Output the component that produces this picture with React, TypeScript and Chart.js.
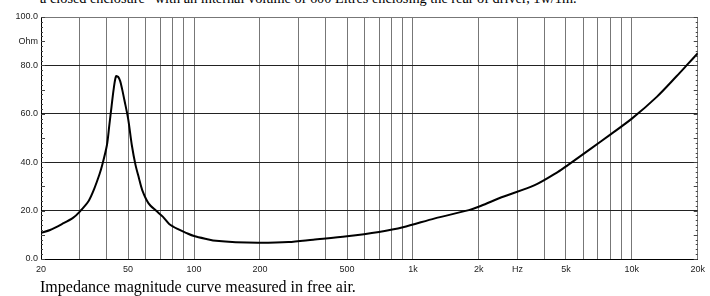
import React, { useEffect, useRef } from "react";
import { Chart, registerables } from "chart.js";
Chart.register(...registerables);

const freqHz = [20, 22, 25, 28, 30, 33, 35, 37, 38, 40, 41, 42, 43, 44, 45, 46, 47, 48, 50, 52, 54, 56, 58, 62, 67, 72, 77, 85, 92, 100, 115, 126, 155, 200, 270, 350, 500, 700, 900, 1260, 1800, 2050, 2540, 3600, 4600, 5100, 6500, 8000, 10000, 13000, 16000, 18000, 20000];
const impedanceOhm = [10.8, 12, 14.5, 17, 19.5, 24, 29, 35, 38.5, 47, 55, 63, 70.5, 75.5, 75.3, 73.5, 70, 66, 58, 47, 39, 33.5, 28.5, 23, 20, 17.5, 14.5, 12.2, 10.8, 9.5, 8.2, 7.5, 6.9, 6.7, 7.0, 8.0, 9.4, 11.2, 13.1, 16.8, 20.2, 22, 25.5, 30.5, 36, 38.8, 45.6, 51.5, 58, 67, 75.5, 80.5, 85];

const xGridValues = [20, 30, 40, 50, 60, 70, 80, 90, 100, 200, 300, 400, 500, 600, 700, 800, 900, 1000, 2000, 3000, 4000, 5000, 6000, 7000, 8000, 9000, 10000, 20000];
const xLabels: Record<number, string> = { 20: "20", 50: "50", 100: "100", 200: "200", 500: "500", 1000: "1k", 2000: "2k", 3000: "Hz", 5000: "5k", 10000: "10k", 20000: "20k" };
const yTickValues = [0, 20, 40, 60, 80, 90, 100];
const yUnitLabel = "Ohm";
const topText = "a closed enclosure\u201D with an internal volume of 600 Litres enclosing the rear of driver, 1w/1m.";
const caption = "Impedance magnitude curve measured in free air.";

const minorTicks = {
  id: "minorTicks",
  afterDraw(chart: any) {
    const y = chart.scales.y;
    const ctx = chart.ctx;
    const { left, right } = chart.chartArea;
    ctx.save();
    ctx.strokeStyle = "#444";
    ctx.lineWidth = 1;
    for (let v = 0; v <= 100; v += 2) {
      const py = Math.round(y.getPixelForValue(v)) + 0.5;
      const len = v % 10 === 0 ? 4 : 2;
      ctx.beginPath();
      ctx.moveTo(left, py);
      ctx.lineTo(left + len, py);
      ctx.moveTo(right, py);
      ctx.lineTo(right - len, py);
      ctx.stroke();
    }
    ctx.restore();
  },
};

export default function App() {
  const ref = useRef<HTMLCanvasElement>(null);
  useEffect(() => {
    const chart = new Chart(ref.current!, {
      type: "line",
      data: {
        datasets: [
          {
            data: freqHz.map((f, i) => ({ x: f, y: impedanceOhm[i] })),
            borderColor: "#000",
            borderWidth: 2,
            pointRadius: 0,
            tension: 0.3,
            fill: false,
          },
        ],
      },
      options: {
        animation: false,
        responsive: false,
        maintainAspectRatio: false,
        layout: { padding: { left: 0, right: 10, top: 17, bottom: 0 } },
        plugins: { legend: { display: false }, tooltip: { enabled: false } },
        scales: {
          x: {
            type: "logarithmic",
            min: 20,
            max: 20000,
            afterBuildTicks: (s: any) => {
              s.ticks = xGridValues.map((v) => ({ value: v }));
            },
            afterFit: (s: any) => {
              s.height = 37;
            },
            ticks: {
              autoSkip: false,
              maxRotation: 0,
              padding: 5,
              color: "#222",
              font: { family: "Liberation Sans, Arial", size: 9 },
              callback: (v: any) => xLabels[Number(v)] ?? "",
            },
            grid: {
              color: "#777",
              lineWidth: 1,
              tickLength: 0,
            },
            border: { color: "#000", width: 1 },
          },
          y: {
            type: "linear",
            min: 0,
            max: 100,
            afterBuildTicks: (s: any) => {
              s.ticks = yTickValues.map((v) => ({ value: v }));
            },
            afterFit: (s: any) => {
              s.width = 41;
            },
            ticks: {
              autoSkip: false,
              padding: 3,
              color: "#222",
              font: { family: "Liberation Sans, Arial", size: 9 },
              callback: (v: any) => (Number(v) === 90 ? yUnitLabel : Number(v).toFixed(1)),
            },
            grid: {
              color: (c: any) => {
                const v = c.tick?.value;
                if (v === 90) return "rgba(0,0,0,0)";
                if (v === 100) return "#777";
                return "#222";
              },
              lineWidth: 1,
              tickLength: 0,
            },
            border: { color: "#000", width: 1 },
          },
        },
      },
      plugins: [minorTicks],
    });
    return () => chart.destroy();
  }, []);

  return (
    <div style={{ position: "fixed", left: 0, top: 0, width: 710, height: 296, background: "#fff", overflow: "hidden" }}>
      <div
        style={{
          position: "absolute",
          left: 40,
          top: -10,
          fontFamily: "Liberation Serif, Times New Roman, serif",
          fontSize: 14.3,
          lineHeight: "16px",
          whiteSpace: "nowrap",
          color: "#000",
        }}
      >
        {topText}
      </div>
      <canvas ref={ref} width={710} height={296} style={{ position: "absolute", left: 0, top: 0 }} />
      <div
        style={{
          position: "absolute",
          left: 40,
          top: 278,
          fontFamily: "Liberation Serif, Times New Roman, serif",
          fontSize: 16,
          lineHeight: "18px",
          whiteSpace: "nowrap",
          color: "#000",
        }}
      >
        {caption}
      </div>
    </div>
  );
}
